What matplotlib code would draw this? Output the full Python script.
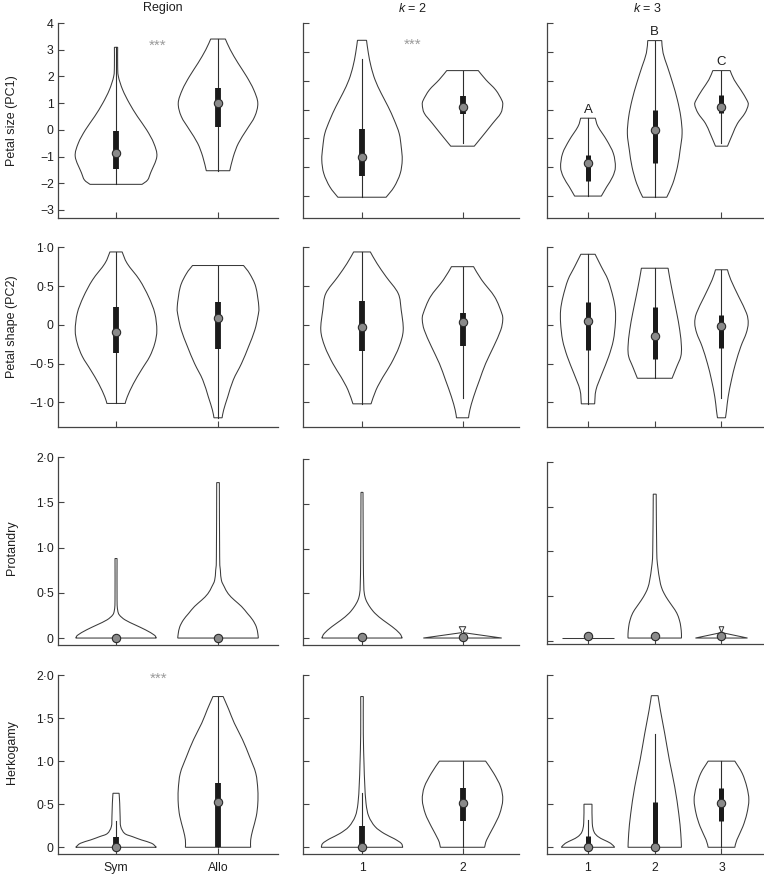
import matplotlib
matplotlib.use("Agg")
import matplotlib.pyplot as plt
from matplotlib.path import Path
from matplotlib.patches import PathPatch

plt.rcParams['font.family'] = ['Liberation Sans', 'DejaVu Sans']
plt.rcParams['mathtext.fontset'] = 'custom'
plt.rcParams['mathtext.it'] = 'Liberation Sans:italic'
plt.rcParams['mathtext.rm'] = 'Liberation Sans'

# ---- datos: perfil de cada violin como (valor, media anchura) ----
# Petal size (PC1)
PC1_SYM = [(-2.04, 0.255), (-1.875, 0.31), (-1.6, 0.34), (-1.0, 0.40), (-0.5, 0.37),
           (0.0, 0.30), (0.5, 0.21), (1.0, 0.13), (1.5, 0.065), (2.0, 0.023),
           (2.4, 0.016), (3.09, 0.016)]
PC1_ALLO = [(-1.53, 0.115), (-1.0, 0.15), (-0.5, 0.20), (0.0, 0.28), (0.5, 0.36),
            (1.0, 0.39), (1.5, 0.35), (2.0, 0.28), (2.5, 0.196), (3.0, 0.12), (3.4, 0.072)]
PC1_K2_1 = [(-2.04, 0.24), (-1.68, 0.32), (-1.22, 0.38), (-0.75, 0.40), (-0.29, 0.39),
            (0.17, 0.37), (0.64, 0.32), (1.1, 0.26), (1.57, 0.19), (2.03, 0.13),
            (2.49, 0.09), (2.96, 0.063), (3.40, 0.045)]
PC1_K2_2 = [(-0.27, 0.117), (0.17, 0.22), (0.52, 0.30), (0.87, 0.38), (1.16, 0.40),
            (1.33, 0.39), (1.68, 0.33), (2.03, 0.233), (2.35, 0.157)]
PC1_K3_1 = [(-2.0, 0.20), (-1.68, 0.28), (-1.33, 0.37), (-0.99, 0.41), (-0.52, 0.38),
            (-0.06, 0.28), (0.41, 0.15), (0.70, 0.11)]
PC1_K3_2 = [(-2.04, 0.18), (-1.57, 0.27), (-0.99, 0.34), (-0.41, 0.38), (0.17, 0.41),
            (0.75, 0.39), (1.33, 0.34), (1.91, 0.27), (2.49, 0.19), (2.96, 0.125), (3.39, 0.105)]
PC1_K3_3 = [(-0.27, 0.09), (0.17, 0.17), (0.52, 0.24), (0.87, 0.35), (1.16, 0.40),
            (1.33, 0.38), (1.68, 0.29), (2.03, 0.19), (2.35, 0.13)]

# Petal shape (PC2)
PC2_SYM = [(-1.015, 0.09), (-0.93, 0.11), (-0.76, 0.17), (-0.58, 0.25), (-0.41, 0.33),
           (-0.24, 0.38), (-0.07, 0.40), (0.15, 0.38), (0.36, 0.32), (0.58, 0.23),
           (0.79, 0.11), (0.94, 0.06)]
PC2_ALLO = [(-1.2, 0.04), (-1.1, 0.055), (-0.93, 0.095), (-0.71, 0.15), (-0.5, 0.23),
            (-0.28, 0.30), (-0.07, 0.36), (0.10, 0.39), (0.23, 0.40), (0.49, 0.37),
            (0.66, 0.31), (0.765, 0.25)]
PC2_K2_1 = [(-1.02, 0.09), (-0.84, 0.14), (-0.67, 0.21), (-0.5, 0.29), (-0.28, 0.37),
            (-0.07, 0.41), (0.19, 0.39), (0.405, 0.36), (0.62, 0.24), (0.79, 0.15), (0.94, 0.083)]
PC2_K2_2 = [(-1.2, 0.06), (-1.1, 0.073), (-0.93, 0.11), (-0.71, 0.17), (-0.5, 0.23),
            (-0.28, 0.31), (-0.07, 0.38), (0.06, 0.40), (0.15, 0.39), (0.36, 0.32),
            (0.58, 0.19), (0.75, 0.11)]
PC2_K3_1 = [(-1.02, 0.10), (-0.84, 0.12), (-0.63, 0.21), (-0.41, 0.31), (-0.2, 0.38),
            (0.02, 0.41), (0.19, 0.41), (0.36, 0.375), (0.58, 0.30), (0.75, 0.20), (0.91, 0.107)]
PC2_K3_2 = [(-0.69, 0.26), (-0.54, 0.33), (-0.41, 0.39), (-0.28, 0.40), (-0.07, 0.375),
            (0.15, 0.33), (0.36, 0.28), (0.58, 0.23), (0.73, 0.20)]
PC2_K3_3 = [(-1.2, 0.06), (-1.1, 0.076), (-0.93, 0.10), (-0.71, 0.15), (-0.5, 0.21),
            (-0.28, 0.29), (-0.11, 0.37), (0.02, 0.40), (0.15, 0.375), (0.36, 0.26),
            (0.58, 0.14), (0.71, 0.09)]

# Protandry
PRO_SYM = [(0.0, 0.395), (0.033, 0.375), (0.09, 0.29), (0.144, 0.19), (0.2, 0.09),
           (0.255, 0.033), (0.31, 0.016), (0.42, 0.01), (0.88, 0.01)]
PRO_ALLO = [(0.0, 0.395), (0.05, 0.39), (0.125, 0.375), (0.2, 0.34), (0.27, 0.29),
            (0.35, 0.23), (0.42, 0.16), (0.49, 0.10), (0.57, 0.06), (0.64, 0.033),
            (0.75, 0.023), (0.9, 0.016), (1.72, 0.013)]
PRO_K2_1 = [(0.0, 0.40), (0.052, 0.375), (0.127, 0.30), (0.2, 0.21), (0.276, 0.13),
            (0.35, 0.077), (0.425, 0.04), (0.5, 0.023), (0.61, 0.017), (0.91, 0.013), (1.63, 0.01)]
PRO_K2_2 = [(0.0, 0.39), (0.06, 0.01), (0.075, 0.008), (0.127, 0.033)]
PRO_K3_1 = [(0.03, 0.39), (0.03, 0.39)]
PRO_K3_2 = [(0.03, 0.40), (0.08, 0.40), (0.157, 0.39), (0.23, 0.37), (0.31, 0.33),
            (0.38, 0.27), (0.455, 0.20), (0.53, 0.14), (0.6, 0.10), (0.68, 0.075),
            (0.83, 0.045), (1.0, 0.03), (1.64, 0.022)]
PRO_K3_3 = [(0.03, 0.39), (0.09, 0.01), (0.105, 0.008), (0.157, 0.035)]

# Herkogamy
HER_SYM = [(0.0, 0.395), (0.046, 0.35), (0.085, 0.25), (0.124, 0.16), (0.16, 0.085),
           (0.24, 0.046), (0.36, 0.04), (0.51, 0.036), (0.627, 0.03)]
HER_ALLO = [(0.0, 0.32), (0.085, 0.32), (0.2, 0.34), (0.36, 0.375), (0.51, 0.39),
            (0.67, 0.39), (0.86, 0.37), (1.05, 0.31), (1.25, 0.24), (1.44, 0.16),
            (1.6, 0.105), (1.75, 0.05)]
HER_K2_1 = [(0.0, 0.405), (0.046, 0.39), (0.1, 0.32), (0.16, 0.22), (0.24, 0.13),
            (0.36, 0.067), (0.51, 0.04), (0.74, 0.027), (0.97, 0.02), (1.32, 0.013), (1.75, 0.013)]
HER_K2_2 = [(0.0, 0.22), (0.085, 0.24), (0.24, 0.31), (0.39, 0.37), (0.55, 0.40),
            (0.7, 0.38), (0.86, 0.31), (1.0, 0.23)]
HER_K3_1 = [(0.0, 0.40), (0.046, 0.34), (0.085, 0.24), (0.124, 0.15), (0.18, 0.09),
            (0.28, 0.064), (0.5, 0.06)]
HER_K3_2 = [(0.0, 0.40), (0.16, 0.39), (0.39, 0.36), (0.7, 0.30), (1.01, 0.22),
            (1.32, 0.15), (1.59, 0.085), (1.76, 0.05)]
HER_K3_3 = [(0.0, 0.20), (0.085, 0.23), (0.24, 0.32), (0.39, 0.38), (0.55, 0.41),
            (0.7, 0.38), (0.86, 0.31), (1.0, 0.20)]

# cajas: (bigote inf, q1, mediana, q3, bigote sup)
PC1_REGION_STATS = [(-2.04, -1.48, -0.85, -0.04, 3.09), (-1.53, 0.12, 1.0, 1.55, 3.4)]
PC1_K2_STATS = [(-2.04, -1.30, -0.65, 0.32, 2.75), (-0.15, 0.85, 1.09, 1.48, 2.35)]
PC1_K3_STATS = [(-2.0, -1.48, -0.87, -0.58, 0.70), (-2.04, -0.85, 0.28, 0.99, 3.39),
                (-0.15, 0.87, 1.09, 1.50, 2.35)]
PC2_REGION_STATS = [(-1.015, -0.37, -0.09, 0.23, 0.94), (-1.2, -0.31, 0.09, 0.30, 0.765)]
PC2_K2_STATS = [(-1.02, -0.34, -0.03, 0.31, 0.94), (-0.95, -0.28, 0.03, 0.15, 0.75)]
PC2_K3_STATS = [(-1.02, -0.32, 0.05, 0.30, 0.91), (-0.69, -0.44, -0.14, 0.23, 0.73),
                (-0.95, -0.30, -0.02, 0.12, 0.71)]
PRO_REGION_STATS = [(0, 0, 0.0, 0, 0), (0, 0, 0.0, 0, 0)]
PRO_K2_STATS = [(0, 0, 0.015, 0, 0), (0, 0, 0.015, 0, 0)]
PRO_K3_STATS = [(0.03, 0.03, 0.05, 0.03, 0.03), (0.03, 0.03, 0.05, 0.03, 0.03),
                (0.03, 0.03, 0.05, 0.03, 0.03)]
HER_REGION_STATS = [(0, 0, 0.0, 0.124, 0.31), (0, 0, 0.53, 0.75, 1.75)]
HER_K2_STATS = [(0, 0, 0.0, 0.25, 0.63), (0, 0.31, 0.51, 0.685, 1.0)]
HER_K3_STATS = [(0, 0, 0.0, 0.13, 0.32), (0, 0, 0.0, 0.53, 1.32), (0, 0.31, 0.51, 0.685, 1.0)]

COL_TITLES = ['Region', '$k$ = 2', '$k$ = 3']
ROW_LABELS = ['Petal size (PC1)', 'Petal shape (PC2)', 'Protandry', 'Herkogamy']
X_LABELS = [['Sym', 'Allo'], ['1', '2'], ['1', '2', '3']]
PC1_TICKS = [-3, -2, -1, 0, 1, 2, 3, 4]
PC1_TICKS_K = [-2, -1, 0, 1, 2, 3, 4]
PC2_TICKS = [-1.0, -0.5, 0, 0.5, 1.0]
POS_TICKS = [0, 0.5, 1.0, 1.5, 2.0]
K3_LETTERS = ['A', 'B', 'C']
K3_LETTER_Y = [0.99, 3.68, 2.64]

# ---- layout (pixeles) ----
W, H = 764, 874
COL_X = [(58, 278), (303, 519), (547, 764)]
XLIMS = [(0.431, 2.588), (0.413, 2.562), (0.386, 3.637)]
BOX_LW = [4.2, 4.2, 3.6]

ROWS = [
    dict(violins=[[PC1_SYM, PC1_ALLO], [PC1_K2_1, PC1_K2_2], [PC1_K3_1, PC1_K3_2, PC1_K3_3]],
         stats=[PC1_REGION_STATS, PC1_K2_STATS, PC1_K3_STATS],
         ys=[(23, 218)] * 3, ylims=[(-3.3, 4), (-2.76, 4), (-2.76, 4)],
         ticks=[PC1_TICKS, PC1_TICKS_K, PC1_TICKS_K], ylab_y=121),
    dict(violins=[[PC2_SYM, PC2_ALLO], [PC2_K2_1, PC2_K2_2], [PC2_K3_1, PC2_K3_2, PC2_K3_3]],
         stats=[PC2_REGION_STATS, PC2_K2_STATS, PC2_K3_STATS],
         ys=[(247.3, 426.7)] * 3, ylims=[(-1.315, 1.0)] * 3,
         ticks=[PC2_TICKS] * 3, ylab_y=327),
    dict(violins=[[PRO_SYM, PRO_ALLO], [PRO_K2_1, PRO_K2_2], [PRO_K3_1, PRO_K3_2, PRO_K3_3]],
         stats=[PRO_REGION_STATS, PRO_K2_STATS, PRO_K3_STATS],
         ys=[(457.3, 645), (459.3, 645), (462, 644.3)],
         ylims=[(-0.077, 2.0), (-0.078, 2.0), (-0.04, 2.0)],
         ticks=[POS_TICKS] * 3, ylab_y=548),
    dict(violins=[[HER_SYM, HER_ALLO], [HER_K2_1, HER_K2_2], [HER_K3_1, HER_K3_2, HER_K3_3]],
         stats=[HER_REGION_STATS, HER_K2_STATS, HER_K3_STATS],
         ys=[(675, 854)] * 3, ylims=[(-0.078, 2.0)] * 3,
         ticks=[POS_TICKS] * 3, ylab_y=752),
]

LINE = '#3a3a3a'
SPINE = '#444444'
TXT = '#1e1e1e'


def tick_label(v, dotted):
    if v == 0:
        return '0'
    s = f"{abs(v):.1f}".replace('.', '\u00b7') if dotted else f"{abs(int(v))}"
    return ('\u2212' if v < 0 else '') + s


def smooth_side(pts):
    """Segmentos Bezier (Catmull-Rom) que pasan por los puntos leidos."""
    verts, codes = [], []
    n = len(pts)
    for i in range(n - 1):
        p0 = pts[max(i - 1, 0)]
        p1, p2 = pts[i], pts[i + 1]
        p3 = pts[min(i + 2, n - 1)]
        c1 = (p1[0] + (p2[0] - p0[0]) / 6, p1[1] + (p2[1] - p0[1]) / 6)
        c2 = (p2[0] - (p3[0] - p1[0]) / 6, p2[1] - (p3[1] - p1[1]) / 6)
        verts += [c1, c2, p2]
        codes += [Path.CURVE4] * 3
    return verts, codes


def draw_violin(ax, x0, profile, stats, box_lw):
    left = [(x0 - w, y) for y, w in profile]
    right = [(x0 + w, y) for y, w in profile[::-1]]
    if len(profile) >= 5:
        lv, lc = smooth_side(left)
        rv, rc = smooth_side(right)
    else:
        lv, lc = left[1:], [Path.LINETO] * (len(left) - 1)
        rv, rc = right[1:], [Path.LINETO] * (len(right) - 1)
    verts = [left[0]] + lv + [right[0]] + rv + [left[0]]
    codes = [Path.MOVETO] + lc + [Path.LINETO] + rc + [Path.CLOSEPOLY]
    ax.add_patch(PathPatch(Path(verts, codes), facecolor='white', edgecolor=LINE,
                           lw=0.75, zorder=2))
    lo, q1, med, q3, hi = stats
    ax.plot([x0, x0], [lo, hi], color='#2e2e2e', lw=0.8, zorder=3)
    if q3 > q1:
        ax.plot([x0, x0], [q1, q3], color='#1a1a1a', lw=box_lw,
                solid_capstyle='butt', zorder=4)
    ax.plot(x0, med, 'o', ms=6, mfc='#8a8a8a', mec='#2a2a2a', mew=0.8, zorder=5)


fig = plt.figure(figsize=(W / 100, H / 100), dpi=100)
axes = []
for r, row in enumerate(ROWS):
    ax_row = []
    for c in range(3):
        x0, x1 = COL_X[c]
        y0, y1 = row['ys'][c]
        ax = fig.add_axes([x0 / W, 1 - y1 / H, (x1 - x0) / W, (y1 - y0) / H])
        ax.patch.set_alpha(0)
        for i, (prof, st) in enumerate(zip(row['violins'][c], row['stats'][c])):
            draw_violin(ax, i + 1, prof, st, BOX_LW[c])
        ax.set_xlim(*XLIMS[c])
        ax.set_ylim(*row['ylims'][c])
        ax.set_yticks(row['ticks'][c])
        if c == 0:
            ax.set_yticklabels([tick_label(v, r > 0) for v in row['ticks'][c]])
        else:
            ax.set_yticklabels([])
        n = len(row['violins'][c])
        ax.set_xticks(range(1, n + 1))
        if r == 3:
            ax.set_xticklabels(X_LABELS[c])
        else:
            ax.set_xticklabels([])
        for side in ['top', 'right']:
            ax.spines[side].set_visible(False)
        for side in ['left', 'bottom']:
            ax.spines[side].set_color(SPINE)
            ax.spines[side].set_linewidth(0.9)
        ax.tick_params(direction='in', length=4, width=0.8, color=SPINE,
                       labelsize=8.8, labelcolor=TXT, pad=3)
        ax.tick_params(axis='x', pad=5.5)
        ax_row.append(ax)
    axes.append(ax_row)
    fig.text(12 / W, 1 - row['ylab_y'] / H, ROW_LABELS[r], rotation=90,
             ha='center', va='center', fontsize=9, color=TXT)

# titulos de columna
for x, t in zip([163, 412, 647], COL_TITLES):
    fig.text(x / W, 1 - 8.5 / H, t, ha='center', va='center', fontsize=9, color=TXT)

# significancia y letras
axes[0][0].text(1.41, 3.14, '***', ha='center', va='center', fontsize=11, color='#9a9a9a')
axes[0][1].text(1.50, 3.23, '***', ha='center', va='center', fontsize=11, color='#9a9a9a')
axes[3][0].text(1.42, 1.96, '***', ha='center', va='center', fontsize=11, color='#9a9a9a')
for i, (lab, y) in enumerate(zip(K3_LETTERS, K3_LETTER_Y)):
    axes[0][2].text(i + 1, y, lab, ha='center', va='center', fontsize=9.5, color=TXT)

fig.savefig('out.png', dpi=100)
